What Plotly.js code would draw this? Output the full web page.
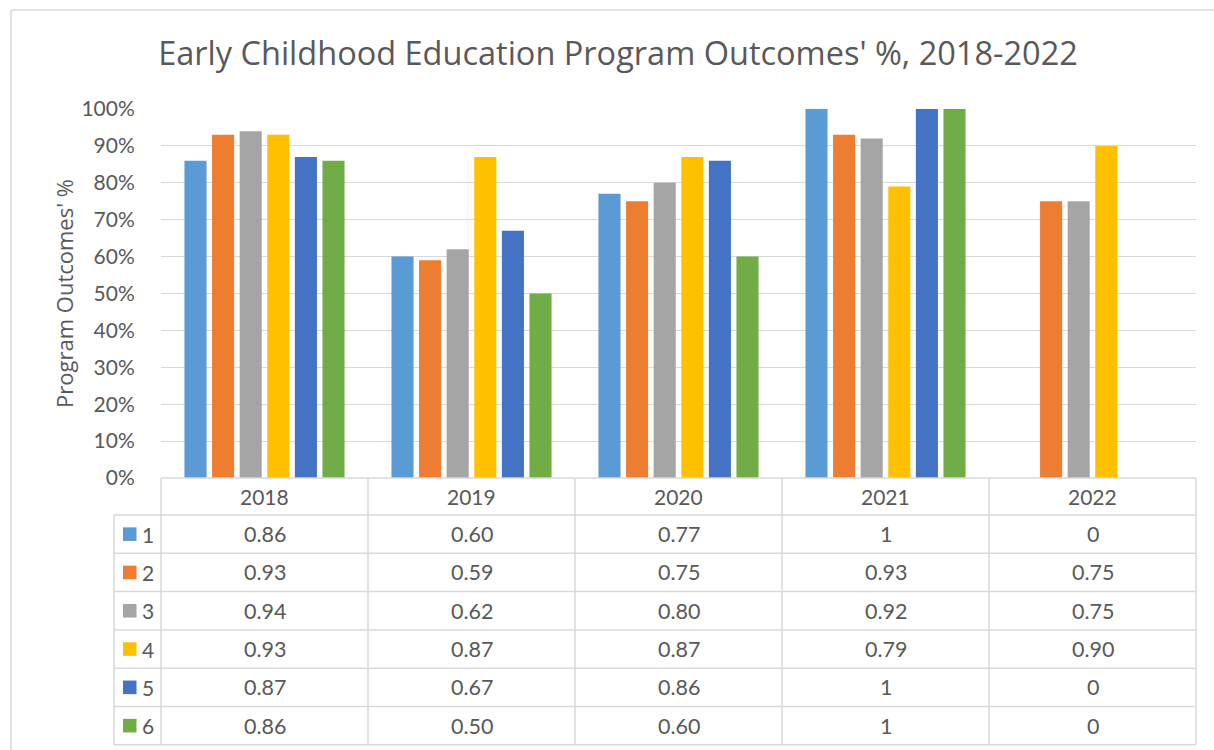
<!DOCTYPE html>
<html><head><meta charset="utf-8">
<script src="https://cdn.plot.ly/plotly-3.0.1.min.js"></script>
<style>html,body{margin:0;padding:0;background:#fff;}#chart{width:1214px;height:750px;}</style>
</head><body><div id="chart"></div>
<script>
// ---- data ----
const years = ['2018', '2019', '2020', '2021', '2022'];
const seriesNames = ['1', '2', '3', '4', '5', '6'];
const series1 = [0.86, 0.60, 0.77, 1, 0];
const series2 = [0.93, 0.59, 0.75, 0.93, 0.75];
const series3 = [0.94, 0.62, 0.80, 0.92, 0.75];
const series4 = [0.93, 0.87, 0.87, 0.79, 0.90];
const series5 = [0.87, 0.67, 0.86, 1, 0];
const series6 = [0.86, 0.50, 0.60, 1, 0];
const titleText = "Early Childhood Education Program Outcomes' %, 2018-2022";
const yTitleText = "Program Outcomes' %";

// ---- style ----
const allSeries = [series1, series2, series3, series4, series5, series6];
const colors = ['#5B9BD5', '#ED7D31', '#A5A5A5', '#FFC000', '#4472C4', '#70AD47'];
const FONT = 'Lato, "Open Sans", sans-serif';
const TFONT = '"Open Sans", sans-serif';
const TXT = '#595959';
const LINE = '#d9d9d9';
const W = 1214, H = 750, L = 161, R = 1196, T = 109, B = 478;
const px = x => (x - L) / (R - L);
const py = y => (B - y) / (B - T);
const headerBottom = 515, rowH = 38.3, tableLeft = 114;
const tableBottom = headerBottom + rowH * seriesNames.length;

const fmt = v => (v === 0 || v === 1) ? String(v) : v.toFixed(2);

const traces = allSeries.map((vals, i) => ({
  type: 'bar', x: years, y: vals, name: seriesNames[i],
  marker: {color: colors[i]}, showlegend: false, hoverinfo: 'skip'
}));

const shapes = [];
const annotations = [];
const hline = (y, x0, x1) => shapes.push({type: 'line', xref: 'paper', yref: 'paper',
  x0: px(x0), x1: px(x1), y0: py(y), y1: py(y), line: {color: LINE, width: 1.5}});
const vline = (x, y0, y1) => shapes.push({type: 'line', xref: 'paper', yref: 'paper',
  x0: px(x), x1: px(x), y0: py(y0), y1: py(y1), line: {color: LINE, width: 1.5}});

// outer frame
hline(10, 11, 1214);
vline(11, 10, 750);

// table grid
hline(B, L, R);
for (let i = 0; i <= seriesNames.length; i++) hline(headerBottom + i * rowH, tableLeft, R);
vline(tableLeft, headerBottom, tableBottom);
for (let c = 0; c <= years.length; c++) vline(L + (R - L) * c / years.length, B, tableBottom);

// header labels (x = category index on the category axis)
years.forEach((yr, j) => annotations.push({xref: 'x', yref: 'paper', x: j, y: py((B + headerBottom) / 2),
  text: yr, showarrow: false, xanchor: 'center', yanchor: 'middle', font: {family: FONT, size: 21, color: TXT}}));

// rows
seriesNames.forEach((nm, i) => {
  const cy = headerBottom + rowH * (i + 0.5);
  shapes.push({type: 'rect', xref: 'paper', yref: 'paper', x0: px(123), x1: px(136.5),
    y0: py(cy - 6.8), y1: py(cy + 6.8), fillcolor: colors[i], line: {width: 0}});
  annotations.push({xref: 'paper', yref: 'paper', x: px(140), y: py(cy), text: nm, showarrow: false,
    xanchor: 'left', yanchor: 'middle', font: {family: FONT, size: 21, color: TXT}});
  years.forEach((yr, j) => annotations.push({xref: 'x', yref: 'paper', x: j, y: py(cy),
    text: fmt(allSeries[i][j]), showarrow: false, xanchor: 'center', yanchor: 'middle',
    font: {family: FONT, size: 21.5, color: TXT}}));
});

const layout = {
  width: W, height: H,
  margin: {l: L, r: W - R, t: T, b: H - B, pad: 0},
  paper_bgcolor: '#fff', plot_bgcolor: '#fff',
  font: {family: FONT, color: TXT},
  title: {text: titleText, x: 618 / W, xref: 'container', xanchor: 'center',
    y: 1 - 54 / H, yref: 'container', yanchor: 'middle', font: {family: TFONT, size: 32.5, color: TXT}},
  barmode: 'group', bargap: 0.2, bargroupgap: 0.2,
  xaxis: {type: 'category', range: [-0.5, years.length - 0.5], autorange: false,
    showticklabels: false, showgrid: false, zeroline: false, showline: false, fixedrange: true},
  yaxis: {range: [0, 1], dtick: 0.1, tickformat: '.0%', showgrid: true, gridcolor: LINE, gridwidth: 1,
    zeroline: false, showline: false, ticks: 'outside', ticklen: 21, tickcolor: 'rgba(0,0,0,0)',
    tickfont: {family: FONT, size: 21, color: TXT},
    title: {text: yTitleText, standoff: 1, font: {family: TFONT, size: 22, color: TXT}}, fixedrange: true},
  shapes: shapes, annotations: annotations
};

Plotly.newPlot('chart', traces, layout, {staticPlot: true, displayModeBar: false});
</script></body></html>
